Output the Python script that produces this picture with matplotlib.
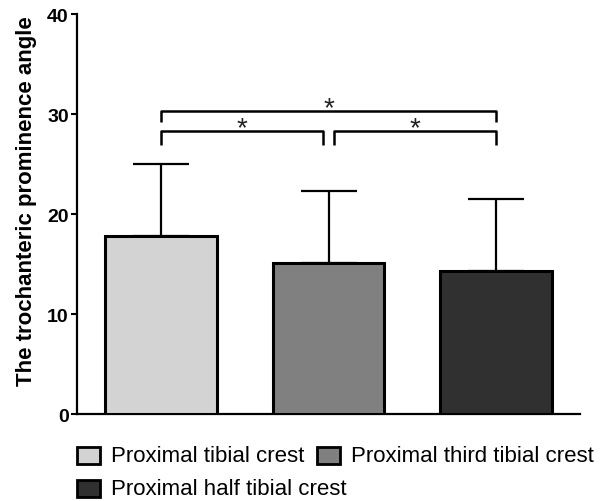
from matplotlib import pyplot as plt
from matplotlib.patches import Rectangle

# data
groups = ['Proximal tibial crest', 'Proximal third tibial crest', 'Proximal half tibial crest']
means = [17.8, 15.1, 14.3]
sds = [7.2, 7.2, 7.2]
colors = ['#d3d3d3', '#808080', '#303030']

# significance brackets: (left bar, right bar, height)
pairs = [(0, 1, 28.3), (1, 2, 28.3), (0, 2, 30.3)]
labels = ['*', '*', '*']

plt.rcParams['font.family'] = ['Liberation Sans', 'DejaVu Sans']

fig = plt.figure(figsize=(6.04, 5.02), dpi=100)
ax = fig.add_axes([77 / 604, 1 - 415 / 502, 503 / 604, 400 / 502])

x = range(len(groups))
ax.bar(x, means, width=0.667, color=colors, edgecolor='black', linewidth=2.2,
       yerr=[[0] * len(sds), sds], capsize=20,
       error_kw=dict(elinewidth=1.6, capthick=1.6, ecolor='black'), zorder=3)

# brackets
gap = 0.03
for (a, b, h), lab in zip(pairs, labels):
    xa, xb = a, b
    if b - a == 1:
        if a == 0:
            xb = b - gap
        else:
            xa = a + gap
    drop = 1.4 if b - a == 1 else 1.1
    ax.plot([xa, xa, xb, xb], [h - drop, h, h, h - drop], color='black', lw=1.8,
            solid_capstyle='butt', clip_on=False)
    ax.text((xa + xb) / 2, h - 0.45, lab, ha='center', va='baseline', fontsize=20,
            color='#222222')

ax.set_xlim(-0.5, 2.5)
ax.set_ylim(0, 40)
ax.set_yticks([0, 10, 20, 30, 40])
ax.set_xticks([])
for s in ['top', 'right']:
    ax.spines[s].set_visible(False)
for s in ['left', 'bottom']:
    ax.spines[s].set_linewidth(1.6)
ax.tick_params(axis='y', direction='out', length=4, width=1.5, labelsize=14, pad=2)
for t in ax.get_yticklabels():
    t.set_fontweight('bold')
ax.set_ylabel('The trochanteric prominence angle', fontsize=16, fontweight='bold')
ax.yaxis.set_label_coords(-0.08, 0.535)

# legend drawn by hand (flowing layout)
leg = [(77, 448, 0), (317, 448, 1), (77, 481, 2)]
for px, py, i in leg:
    fig.patches.append(Rectangle((px / 604, 1 - (py + 17) / 502), 23 / 604, 17 / 502,
                                 transform=fig.transFigure, facecolor=colors[i],
                                 edgecolor='black', linewidth=2))
    fig.text((px + 34) / 604, 1 - (py + 9) / 502, groups[i], fontsize=16,
             va='center', ha='left')

plt.savefig('out.png', dpi=100)
